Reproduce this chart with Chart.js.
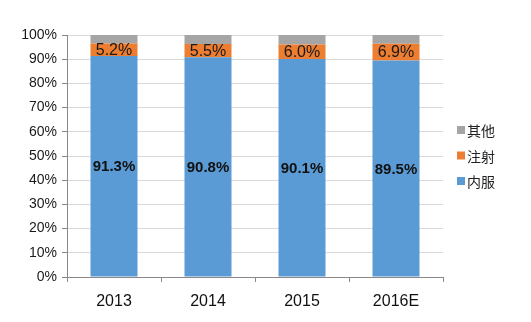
<!DOCTYPE html>
<html><head><meta charset="utf-8">
<script src="https://cdn.jsdelivr.net/npm/chart.js@4/dist/chart.umd.min.js"></script>
<style>html,body{margin:0;padding:0;background:#fff;}canvas{display:block;}</style>
</head><body>
<canvas id="c" width="531" height="322"></canvas>
<script>
const categories = ['2013', '2014', '2015', '2016E'];
const oral = [91.3, 90.8, 90.1, 89.5];
const injection = [5.2, 5.5, 6.0, 6.9];
const other = [3.5, 3.7, 3.9, 3.6];
const seriesNames = ['内服', '注射', '其他'];
const yTicks = [0,10,20,30,40,50,60,70,80,90,100];

const colors = ['#5B9BD5', '#ED7D31', '#A5A5A5'];
const FONT = '"Liberation Sans", Arial, sans-serif';

const labelPlugin = {
  id: 'segLabels',
  afterDatasetsDraw(chart) {
    const ctx = chart.ctx;
    ctx.save();
    ctx.textAlign = 'center';
    ctx.textBaseline = 'middle';
    [0,1].forEach(di => {
      const meta = chart.getDatasetMeta(di);
      meta.data.forEach((bar, i) => {
        const v = chart.data.datasets[di].data[i];
        const yMid = (bar.y + bar.base) / 2;
        if (di === 0) { ctx.font = 'bold 15px ' + FONT; ctx.fillStyle = '#111'; }
        else { ctx.font = '16px ' + FONT; ctx.fillStyle = '#1a1a1a'; }
        ctx.fillText(v.toFixed(1) + '%', bar.x, yMid + 1);
      });
    });
    // legend
    const items = [2,1,0];
    items.forEach((di, k) => {
      const y = 131 + k * 25.5;
      ctx.fillStyle = colors[di];
      ctx.fillRect(457, y - 5, 8, 8);
      ctx.fillStyle = '#222';
      ctx.textAlign = 'left';
      ctx.font = '14px "Noto Sans CJK SC", sans-serif';
      ctx.fillText(seriesNames[di], 467, y);
    });
    ctx.restore();
  }
};

new Chart(document.getElementById('c'), {
  type: 'bar',
  data: {
    labels: categories,
    datasets: [
      { label: seriesNames[0], data: oral, backgroundColor: colors[0] },
      { label: seriesNames[1], data: injection, backgroundColor: colors[1] },
      { label: seriesNames[2], data: other, backgroundColor: colors[2] }
    ]
  },
  options: {
    responsive: false,
    animation: false,
    datasets: { bar: { categoryPercentage: 1, barPercentage: 0.5 } },
    layout: { padding: { left: 0, top: 35, right: 88, bottom: 0 } },
    plugins: { legend: { display: false }, tooltip: { enabled: false } },
    scales: {
      x: {
        stacked: true,
        afterFit(s) { s.height = 45; },
        grid: { display: true, drawOnChartArea: false, drawTicks: true, tickLength: 5, color: '#888', offset: true },
        border: { display: true, color: '#888' },
        ticks: { color: '#111', font: { family: FONT, size: 16 }, padding: 10 }
      },
      y: {
        stacked: true,
        min: 0, max: 100,
        afterFit(s) { s.width = 67; },
        afterBuildTicks(s) { s.ticks = yTicks.map(v => ({ value: v })); },
        grid: { color: '#dadada', borderDash: [2, 2], tickLength: 5, tickColor: '#888',
                drawTicks: true },
        border: { display: true, color: '#888' },
        ticks: { color: '#1a1a1a', font: { family: FONT, size: 14 }, padding: 5,
                 callback: v => v + '%' }
      }
    }
  },
  plugins: [labelPlugin]
});
</script>
</body></html>
